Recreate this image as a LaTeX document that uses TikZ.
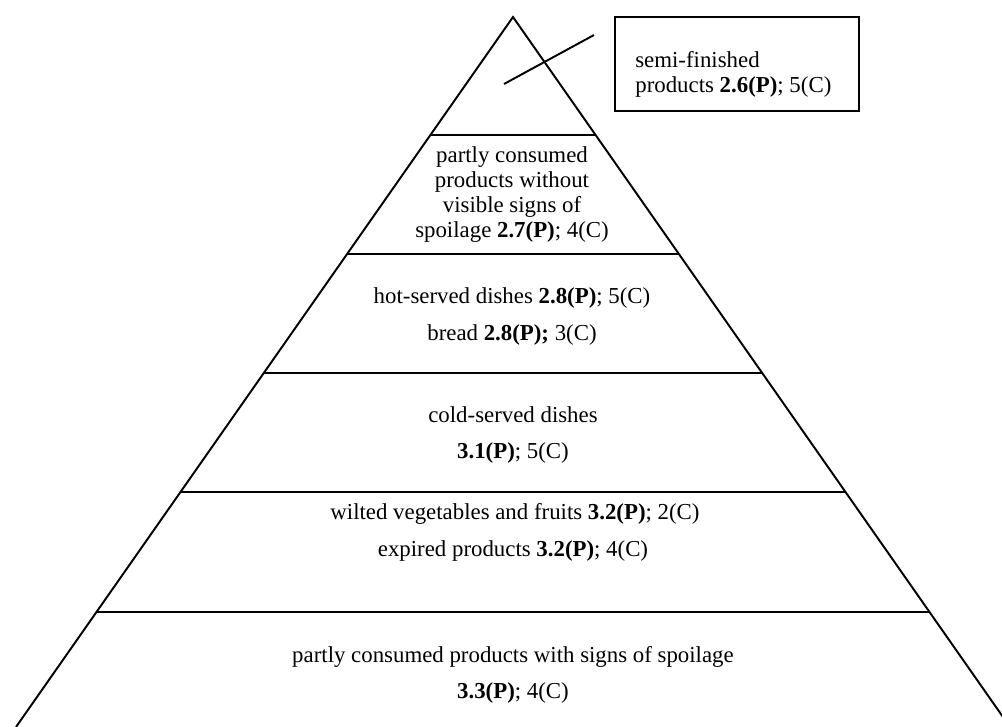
\documentclass[tikz,border=0pt]{standalone}
\usepackage{fontspec}
\setmainfont{Liberation Serif}
\usetikzlibrary{calc}

\begin{document}
\begin{tikzpicture}[x=0.02cm,y=-0.02cm,
    lbl/.style={font=\fontsize{13}{14.2}\selectfont, align=center, inner sep=0pt, anchor=base},
    tier/.style={line width=1.1pt}]
    \useasboundingbox (0,0) rectangle (1002,727);
    \coordinate (apex) at (513,17);
    \coordinate (bl) at (16,727);
    \coordinate (br) at (1010,727);

    % pyramid and its tiers
    \draw[tier] (bl) -- (apex) -- (br);
    \foreach \y [count=\i] in {135,254,373,492,612} {
        \coordinate (l\i) at ($(apex)!{(\y-17)/710}!(bl)$);
        \coordinate (r\i) at ($(apex)!{(\y-17)/710}!(br)$);
        \draw[tier] (l\i) -- (r\i);
    }

    % top: callout box
    \node[draw, line width=1.1pt, minimum width=4.88cm, minimum height=1.88cm, inner sep=0pt] (semibox) at (737,64) {};
    \node[lbl, align=left, anchor=base west] (semi) at (635,92) {semi-finished\\products \textbf{2.6(P)}; 5(C)};
    \coordinate (ptr) at (504,84);
    \coordinate (ptrend) at (594,35);
    \draw[tier] (ptr) -- (ptrend);

    \node[lbl] (partly) at (512,237) {partly consumed\\products without\\visible signs of\\spoilage \textbf{2.7(P)}; 4(C)};
    \node[lbl] (hot) at (512,303) {hot-served dishes \textbf{2.8(P)}; 5(C)};
    \node[lbl] (bread) at (512,340) {bread \textbf{2.8(P);} 3(C)};
    \node[lbl] (cold) at (513,422) {cold-served dishes};
    \node[lbl] (coldval) at (513,458) {\textbf{3.1(P)}; 5(C)};
    \node[lbl] (wilted) at (515,519) {wilted vegetables and fruits \textbf{3.2(P)}; 2(C)};
    \node[lbl] (expired) at (513,556) {expired products \textbf{3.2(P)}; 4(C)};
    \node[lbl] (spoil) at (513,662) {partly consumed products with signs of spoilage};
    \node[lbl] (spoilval) at (513,698) {\textbf{3.3(P)}; 4(C)};
\end{tikzpicture}
\end{document}
